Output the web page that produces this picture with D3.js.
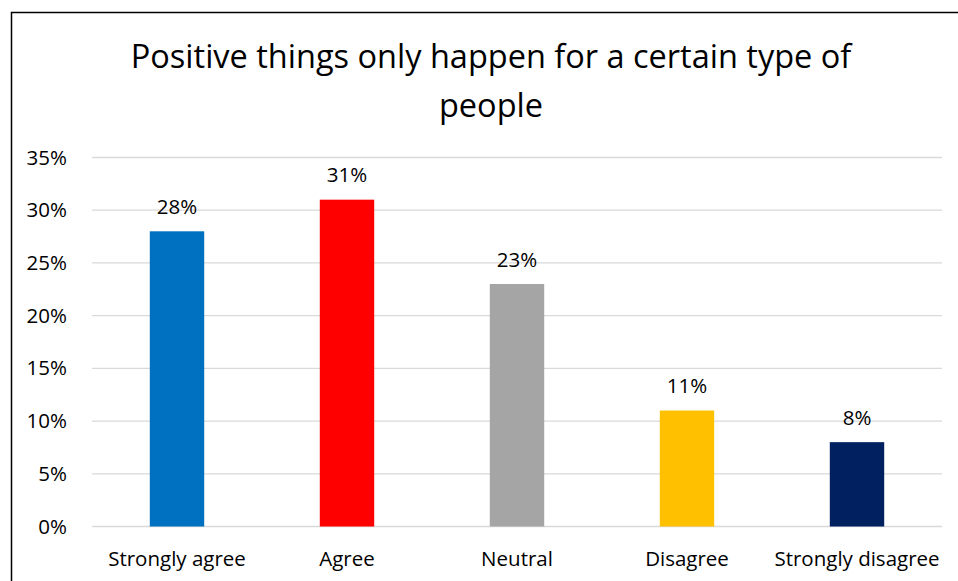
<!DOCTYPE html>
<html><head><meta charset="utf-8">
<script src="https://cdn.jsdelivr.net/npm/d3@7"></script>
<style>body{margin:0;background:#fff;} svg{display:block;}</style>
</head><body>
<svg id="chart" width="958" height="581"></svg>
<script>
const categories = ["Strongly agree", "Agree", "Neutral", "Disagree", "Strongly disagree"];
const values = [0.28, 0.31, 0.23, 0.11, 0.08];
const colors = ["#0070C0", "#FF0000", "#A5A5A5", "#FFC000", "#002060"];
const yTicks = [0, 0.05, 0.10, 0.15, 0.20, 0.25, 0.30, 0.35];
const titleLines = ["Positive things only happen for a certain type of", "people"];

const svg = d3.select("#chart");
const font = "'Open Sans', sans-serif";
const fs = 20.5;
svg.append("rect").attr("x", 11.5).attr("y", 12.5).attr("width", 1000).attr("height", 1000)
  .attr("fill", "#fff").attr("stroke", "#000").attr("stroke-width", 1.5);

const x = d3.scaleBand().domain(categories).range([92, 942]).paddingInner(0.68).paddingOuter(0.34);
const y = d3.scaleLinear().domain([0, 0.35]).range([526.5, 157.5]);

const grid = svg.append("g");
grid.selectAll("line").data(yTicks).join("line")
  .attr("x1", 92).attr("x2", 942).attr("y1", d => y(d)).attr("y2", d => y(d))
  .attr("stroke", "#d9d9d9").attr("stroke-width", 1.3);

const yAxis = svg.append("g").attr("transform", "translate(70,0)")
  .call(d3.axisLeft(y).tickValues(yTicks).tickFormat(d3.format(".0%")).tickSize(0));
yAxis.select(".domain").remove();
yAxis.selectAll("text").attr("font-family", font).attr("font-size", fs).attr("fill", "#000").attr("dx", 0).attr("dy", "0.32em");

svg.selectAll("rect.bar").data(values).join("rect").attr("class", "bar")
  .attr("x", (d, i) => x(categories[i])).attr("width", x.bandwidth())
  .attr("y", d => y(d)).attr("height", d => y(0) - y(d))
  .attr("fill", (d, i) => colors[i]);

svg.selectAll("text.val").data(values).join("text").attr("class", "val")
  .attr("x", (d, i) => x(categories[i]) + x.bandwidth() / 2).attr("y", d => y(d) - 17.5)
  .attr("text-anchor", "middle").attr("font-family", font).attr("font-size", fs).attr("fill", "#000")
  .text(d => d3.format(".0%")(d));

const xAxis = svg.append("g").attr("transform", `translate(0,${y(0)})`)
  .call(d3.axisBottom(x).tickSize(0).tickPadding(0));
xAxis.select(".domain").remove();
xAxis.selectAll("text").attr("font-family", font).attr("font-size", fs).attr("fill", "#000")
  .attr("dy", null).attr("y", 39);

svg.append("text").attr("x", 491).attr("text-anchor", "middle")
  .attr("font-family", font).attr("font-size", 32.5).attr("fill", "#000")
  .selectAll("tspan").data(titleLines).join("tspan")
  .attr("x", 491).attr("y", (d, i) => 68 + i * 49).text(d => d);
</script>
</body></html>
